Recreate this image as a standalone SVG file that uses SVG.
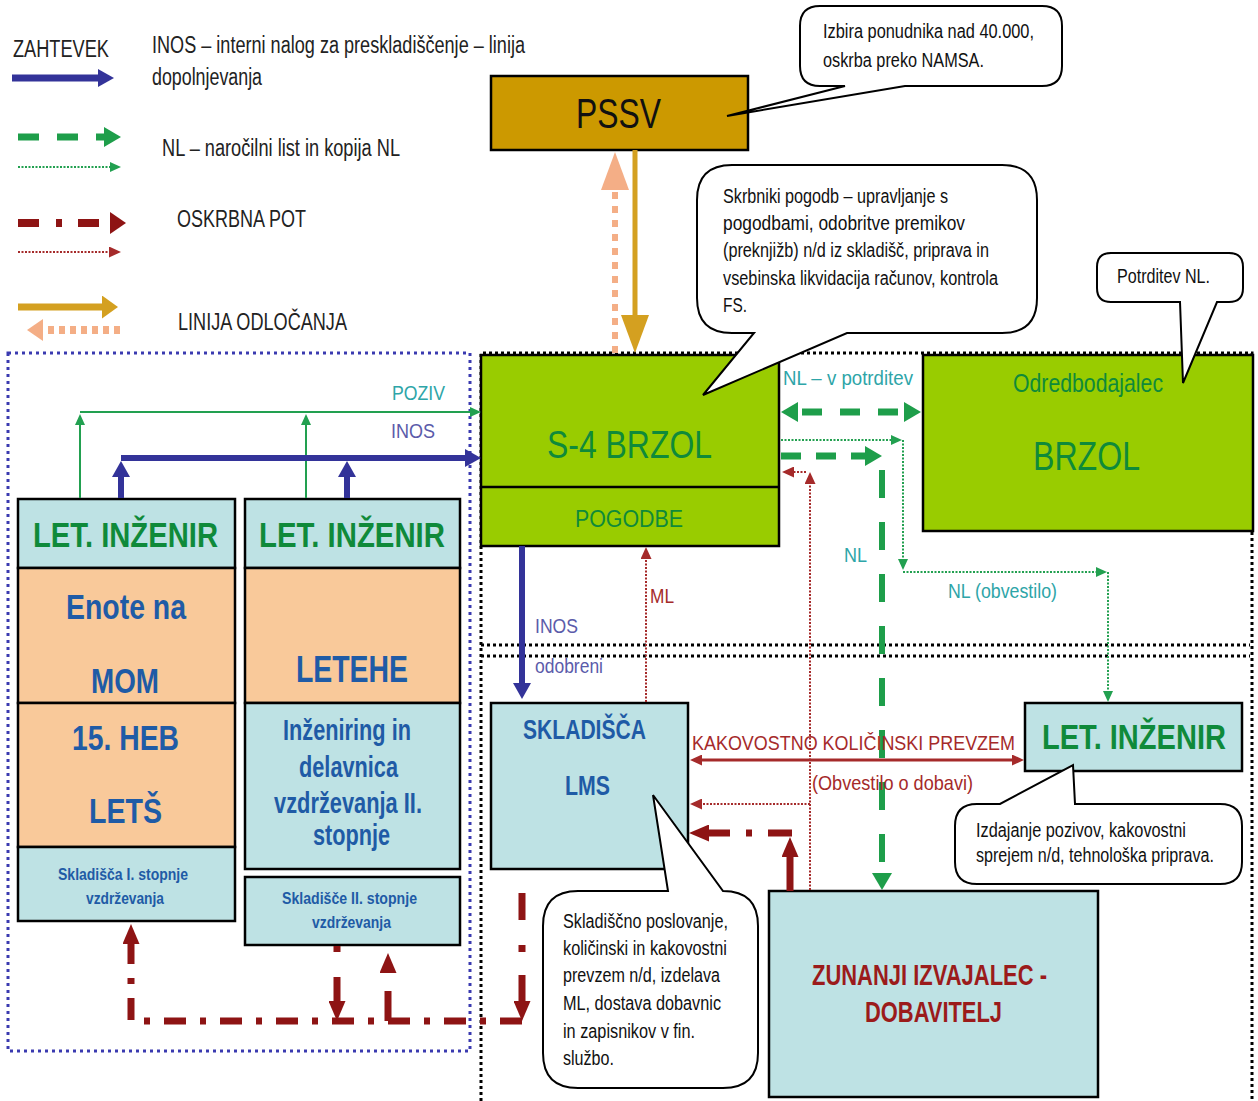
<svg xmlns="http://www.w3.org/2000/svg" width="1258" height="1101" viewBox="0 0 1258 1101">
<defs>
<style>
text { font-family: "Liberation Sans", Arial, sans-serif; }
.box { stroke:#000; stroke-width:2.5; }
.green { fill:#99CC00; }
.cyan { fill:#BEE2E4; }
.peach { fill:#F9C99A; }
.gold { fill:#CC9900; }
.call { fill:#fff; stroke:#000; stroke-width:2; }
.lg { font-size:23px; fill:#222; }
.ct { font-size:20px; fill:#111; }
.gt { fill:#0F8A3A; }
.let { font-size:35px; font-weight:bold; fill:#0F8A3A; text-anchor:middle; }
.bt { font-weight:bold; fill:#1F5BA6; text-anchor:middle; }
.teal { fill:#2EA5A8; font-size:21px; }
.pur { fill:#5B5BAA; font-size:21px; }
.rt { fill:#A52A2A; font-size:21px; }
.mid { text-anchor:middle; }
.cb { stroke:#333399; fill:none; }
.cg { stroke:#1E9E4A; fill:none; }
.cgt { stroke:#22A050; fill:none; stroke-width:2; stroke-dasharray:2 1.5; }
.cgl { stroke:#22A050; fill:none; stroke-width:2; }
.crt { stroke:#A52A2A; fill:none; stroke-width:2; stroke-dasharray:2 1.5; }
.cr { stroke:#8E1414; fill:none; }
</style>
<marker id="mBlue" markerUnits="userSpaceOnUse" viewBox="0 0 16 18" markerWidth="16" markerHeight="18" refX="1" refY="9" orient="auto"><path d="M0,0L16,9L0,18Z" fill="#333399"/></marker>
<marker id="mGreen" markerUnits="userSpaceOnUse" viewBox="0 0 17 20" markerWidth="17" markerHeight="20" refX="1" refY="10" orient="auto-start-reverse"><path d="M0,0L17,10L0,20Z" fill="#1E9E4A"/></marker>
<marker id="mGreenS" markerUnits="userSpaceOnUse" viewBox="0 0 11 10" markerWidth="11" markerHeight="10" refX="1" refY="5" orient="auto"><path d="M0,0L11,5L0,10Z" fill="#22A050"/></marker>
<marker id="mRedS" markerUnits="userSpaceOnUse" viewBox="0 0 12 11" markerWidth="12" markerHeight="11" refX="1" refY="5.5" orient="auto-start-reverse"><path d="M0,0L12,5.5L0,11Z" fill="#A52A2A"/></marker>
<marker id="mRed" markerUnits="userSpaceOnUse" viewBox="0 0 20 17" markerWidth="20" markerHeight="17" refX="1" refY="8.5" orient="auto"><path d="M0,0L20,8.5L0,17Z" fill="#8E1414"/></marker>
<marker id="mRedL" markerUnits="userSpaceOnUse" viewBox="0 0 16 22" markerWidth="16" markerHeight="22" refX="1" refY="11" orient="auto"><path d="M0,0L16,11L0,22Z" fill="#8E1414"/></marker>
<marker id="mGold" markerUnits="userSpaceOnUse" viewBox="0 0 38 28" markerWidth="38" markerHeight="28" refX="1" refY="14" orient="auto"><path d="M0,0L38,14L0,28Z" fill="#D4A020"/></marker>
<marker id="mGoldS" markerUnits="userSpaceOnUse" viewBox="0 0 16 23" markerWidth="16" markerHeight="23" refX="1" refY="11.5" orient="auto"><path d="M0,0L16,11.5L0,23Z" fill="#D4A020"/></marker>
<marker id="mSalmon" markerUnits="userSpaceOnUse" viewBox="0 0 38 28" markerWidth="38" markerHeight="28" refX="1" refY="14" orient="auto"><path d="M0,0L38,14L0,28Z" fill="#F4AE86"/></marker>
<marker id="mSalmonS" markerUnits="userSpaceOnUse" viewBox="0 0 16 22" markerWidth="16" markerHeight="22" refX="1" refY="11" orient="auto"><path d="M0,0L16,11L0,22Z" fill="#F4AE86"/></marker>
</defs>
<rect x="0" y="0" width="1258" height="1101" fill="#fff"/>

<g id="legend">
<text class="lg" x="13" y="57" textLength="96" lengthAdjust="spacingAndGlyphs">ZAHTEVEK</text>
<text class="lg" x="152" y="53" textLength="373" lengthAdjust="spacingAndGlyphs">INOS – interni nalog za preskladiščenje – linija</text>
<text class="lg" x="152" y="85" textLength="110" lengthAdjust="spacingAndGlyphs">dopolnjevanja</text>
<text class="lg" x="162" y="156" textLength="238" lengthAdjust="spacingAndGlyphs">NL – naročilni list in kopija NL</text>
<text class="lg" x="177" y="227" textLength="129" lengthAdjust="spacingAndGlyphs">OSKRBNA POT</text>
<text class="lg" x="178" y="330" textLength="169" lengthAdjust="spacingAndGlyphs">LINIJA ODLOČANJA</text>
<path class="cb" d="M12,78 H99" stroke-width="7" marker-end="url(#mBlue)"/>
<path class="cg" d="M18,137 H105" stroke-width="7" stroke-dasharray="21 18" marker-end="url(#mGreen)"/>
<path class="cgt" d="M18,167 H111" marker-end="url(#mGreenS)"/>
<path class="cr" d="M18,223 H111" stroke-width="8" stroke-dasharray="21 17 6 16" marker-end="url(#mRedL)"/>
<path class="crt" d="M18,252 H110" marker-end="url(#mRedS)"/>
<path d="M18,307 H103" stroke="#D4A020" stroke-width="7" fill="none" marker-end="url(#mGoldS)"/>
<path d="M120,330 H42" stroke="#F4AE86" stroke-width="8" stroke-dasharray="6 5" fill="none" marker-end="url(#mSalmonS)"/>
</g>

<g id="frames">
<rect x="8" y="353" width="462" height="698" fill="none" stroke="#3A3AB0" stroke-width="3" stroke-dasharray="3 4"/>
<path d="M481,1101 V353 H1252 V1101" fill="none" stroke="#000" stroke-width="3" stroke-dasharray="3 3"/>
<path d="M481,645 H1250 M481,656 H1250" fill="none" stroke="#000" stroke-width="3" stroke-dasharray="3 3"/>
</g>

<g id="node-pssv">
<rect class="box gold" x="491" y="76" width="257" height="74"/>
<text x="618.5" y="128" font-size="42" fill="#111" class="mid" textLength="85" lengthAdjust="spacingAndGlyphs">PSSV</text>
</g>
<g id="node-s4brzol">
<rect class="box green" x="481" y="355" width="298" height="191"/>
<line x1="481" y1="487" x2="779" y2="487" stroke="#000" stroke-width="2.5"/>
<text class="gt mid" x="629.5" y="458" font-size="38" textLength="165" lengthAdjust="spacingAndGlyphs">S-4 BRZOL</text>
<text class="gt mid" x="629" y="527" font-size="23" textLength="108" lengthAdjust="spacingAndGlyphs">POGODBE</text>
</g>
<g id="node-odredbodajalec">
<rect class="box green" x="923" y="355" width="330" height="176"/>
<text class="gt mid" x="1088" y="392" font-size="25" textLength="150" lengthAdjust="spacingAndGlyphs">Odredbodajalec</text>
<text class="gt mid" x="1086.5" y="470" font-size="41" textLength="107" lengthAdjust="spacingAndGlyphs">BRZOL</text>
</g>
<g id="node-col1">
<rect class="box cyan" x="18" y="499" width="217" height="69"/>
<rect class="box peach" x="18" y="568" width="217" height="135"/>
<rect class="box peach" x="18" y="703" width="217" height="144"/>
<rect class="box cyan" x="18" y="847" width="217" height="74"/>
<text class="let" x="125.5" y="547" textLength="185" lengthAdjust="spacingAndGlyphs">LET. INŽENIR</text>
<text class="bt" x="126" y="619" font-size="35" textLength="120" lengthAdjust="spacingAndGlyphs">Enote na</text>
<text class="bt" x="125" y="693" font-size="35" textLength="68" lengthAdjust="spacingAndGlyphs">MOM</text>
<text class="bt" x="125.5" y="750" font-size="35" textLength="107" lengthAdjust="spacingAndGlyphs">15. HEB</text>
<text class="bt" x="125.5" y="823" font-size="35" textLength="73" lengthAdjust="spacingAndGlyphs">LETŠ</text>
<text class="bt" x="123" y="880" font-size="17" textLength="130" lengthAdjust="spacingAndGlyphs">Skladišča I. stopnje</text>
<text class="bt" x="125" y="904" font-size="17" textLength="78" lengthAdjust="spacingAndGlyphs">vzdrževanja</text>
</g>
<g id="node-col2">
<rect class="box cyan" x="245" y="499" width="215" height="69"/>
<rect class="box peach" x="245" y="568" width="215" height="135"/>
<rect class="box cyan" x="245" y="703" width="215" height="166"/>
<rect class="box cyan" x="245" y="877" width="215" height="68"/>
<text class="let" x="352" y="547" textLength="186" lengthAdjust="spacingAndGlyphs">LET. INŽENIR</text>
<text class="bt" x="352" y="682" font-size="37" textLength="112" lengthAdjust="spacingAndGlyphs">LETEHE</text>
<text class="bt" x="347" y="740" font-size="29" textLength="128" lengthAdjust="spacingAndGlyphs">Inženiring in</text>
<text class="bt" x="348.5" y="777" font-size="29" textLength="99" lengthAdjust="spacingAndGlyphs">delavnica</text>
<text class="bt" x="348" y="813" font-size="29" textLength="148" lengthAdjust="spacingAndGlyphs">vzdrževanja II.</text>
<text class="bt" x="351.5" y="845" font-size="29" textLength="77" lengthAdjust="spacingAndGlyphs">stopnje</text>
<text class="bt" x="349.5" y="904" font-size="17" textLength="135" lengthAdjust="spacingAndGlyphs">Skladišče II. stopnje</text>
<text class="bt" x="351.5" y="928" font-size="17" textLength="79" lengthAdjust="spacingAndGlyphs">vzdrževanja</text>
</g>
<g id="node-skladisca">
<rect class="box cyan" x="491" y="703" width="197" height="166"/>
<text class="bt" x="584.5" y="739" font-size="28" textLength="123" lengthAdjust="spacingAndGlyphs">SKLADIŠČA</text>
<text class="bt" x="587.5" y="795" font-size="28" textLength="45" lengthAdjust="spacingAndGlyphs">LMS</text>
</g>
<g id="node-let-right">
<rect class="box cyan" x="1025" y="703" width="217" height="68"/>
<text class="let" x="1134" y="749" font-size="31" textLength="184" lengthAdjust="spacingAndGlyphs">LET. INŽENIR</text>
</g>
<g id="node-zunanji">
<rect class="box cyan" x="769" y="891" width="329" height="206"/>
<text x="929.5" y="985" font-size="30" font-weight="bold" fill="#9B1B1B" class="mid" textLength="235" lengthAdjust="spacingAndGlyphs">ZUNANJI IZVAJALEC -</text>
<text x="933.5" y="1022" font-size="30" font-weight="bold" fill="#9B1B1B" class="mid" textLength="137" lengthAdjust="spacingAndGlyphs">DOBAVITELJ</text>
</g>

<g id="connectors">
<path d="M615,353 V189" stroke="#F4AE86" stroke-width="6" stroke-dasharray="7 7" fill="none" marker-end="url(#mSalmon)"/>
<path d="M635,150 V316" stroke="#D4A020" stroke-width="5" fill="none" marker-end="url(#mGold)"/>
<path class="cgl" d="M80,412 H471" marker-end="url(#mGreenS)"/>
<path class="cgl" d="M80,498 V424" marker-end="url(#mGreenS)"/>
<path class="cgl" d="M306,498 V424" marker-end="url(#mGreenS)"/>
<path class="cb" d="M121,458 H466" stroke-width="6" marker-end="url(#mBlue)"/>
<path class="cb" d="M121,498 V476" stroke-width="6" marker-end="url(#mBlue)"/>
<path class="cb" d="M347,498 V476" stroke-width="6" marker-end="url(#mBlue)"/>
<path class="cb" d="M522,546 V684" stroke-width="6" marker-end="url(#mBlue)"/>
<path class="crt" d="M646,702 V558" marker-end="url(#mRedS)"/>
<path class="crt" d="M810,890 V483" marker-end="url(#mRedS)"/>
<path class="crt" d="M806,472 H793" marker-end="url(#mRedS)"/>
<path class="crt" d="M810,804 H701" marker-end="url(#mRedS)"/>
<path d="M701,760 H1013" stroke="#A52A2A" stroke-width="3" fill="none" marker-start="url(#mRedS)" marker-end="url(#mRedS)"/>
<path class="cr" d="M790,891 V856" stroke-width="7" marker-end="url(#mRed)"/>
<path class="cr" d="M792,833 H708" stroke-width="7" stroke-dasharray="24 16 6 16" marker-end="url(#mRed)"/>
<path class="cr" d="M522,893 V1002" stroke-width="7" stroke-dasharray="27 25 7 23 40" marker-end="url(#mRed)"/>
<path class="cr" d="M522,1021 H131 V943" stroke-width="7" stroke-dasharray="22 14 6 14" marker-end="url(#mRed)"/>
<path class="cr" d="M337,946 V1002" stroke-width="7" stroke-dasharray="6 25 40" marker-end="url(#mRed)"/>
<path class="cr" d="M388,1021 V972" stroke-width="7" stroke-dasharray="30 50" marker-end="url(#mRed)"/>
<path class="cg" d="M797,412 H905" stroke-width="7" stroke-dasharray="20 18" stroke-dashoffset="33" marker-start="url(#mGreen)" marker-end="url(#mGreen)"/>
<path class="cg" d="M781,456 H866" stroke-width="7" stroke-dasharray="20 15" marker-end="url(#mGreen)"/>
<path class="cg" d="M882,470 V874" stroke-width="6" stroke-dasharray="28 24" marker-end="url(#mGreen)"/>
<path class="cgt" d="M781,440 H892" marker-end="url(#mGreenS)"/>
<path class="cgt" d="M903,440 V560" marker-end="url(#mGreenS)"/>
<path class="cgt" d="M903,572 H1097" marker-end="url(#mGreenS)"/>
<path class="cgt" d="M1108,572 V692" marker-end="url(#mGreenS)"/>
<text class="teal" x="392" y="400" textLength="53" lengthAdjust="spacingAndGlyphs">POZIV</text>
<text class="pur" x="391" y="438" textLength="44" lengthAdjust="spacingAndGlyphs">INOS</text>
<text class="pur" x="535" y="633" textLength="43" lengthAdjust="spacingAndGlyphs">INOS</text>
<text class="pur" x="535" y="673" font-size="20" textLength="68" lengthAdjust="spacingAndGlyphs">odobreni</text>
<text class="rt" x="650" y="603" textLength="24" lengthAdjust="spacingAndGlyphs">ML</text>
<text class="teal" x="783" y="385" textLength="130" lengthAdjust="spacingAndGlyphs">NL – v potrditev</text>
<text class="teal" x="844" y="562" textLength="23" lengthAdjust="spacingAndGlyphs">NL</text>
<text class="teal" x="948" y="598" textLength="109" lengthAdjust="spacingAndGlyphs">NL (obvestilo)</text>
<text class="rt" x="692" y="750" textLength="323" lengthAdjust="spacingAndGlyphs">KAKOVOSTNO KOLIČINSKI PREVZEM</text>
<text class="rt" x="812" y="790" font-size="20" textLength="161" lengthAdjust="spacingAndGlyphs">(Obvestilo o dobavi)</text>
</g>

<g id="callout-pssv">
<path class="call" d="M820,6 H1042 Q1062,6 1062,26 V66 Q1062,86 1042,86 H905 L727,116 L845,86 H820 Q800,86 800,66 V26 Q800,6 820,6 Z"/>
<text class="ct" x="823" y="38" textLength="211" lengthAdjust="spacingAndGlyphs">Izbira ponudnika nad 40.000,</text>
<text class="ct" x="823" y="67" textLength="161" lengthAdjust="spacingAndGlyphs">oskrba preko NAMSA.</text>
</g>
<g id="callout-s4">
<path class="call" d="M732,165 H1002 Q1037,165 1037,200 V298 Q1037,333 1002,333 H847 L703,395 L754,333 H732 Q697,333 697,298 V200 Q697,165 732,165 Z"/>
<text class="ct" x="723" y="203" textLength="225" lengthAdjust="spacingAndGlyphs">Skrbniki pogodb – upravljanje s</text>
<text class="ct" x="723" y="230" textLength="242" lengthAdjust="spacingAndGlyphs">pogodbami, odobritve premikov</text>
<text class="ct" x="723" y="257" textLength="266" lengthAdjust="spacingAndGlyphs">(preknjižb) n/d iz skladišč, priprava in</text>
<text class="ct" x="723" y="285" textLength="275" lengthAdjust="spacingAndGlyphs">vsebinska likvidacija računov, kontrola</text>
<text class="ct" x="723" y="312" textLength="24" lengthAdjust="spacingAndGlyphs">FS.</text>
</g>
<g id="callout-odred">
<path class="call" d="M1111,253 H1229 Q1243,253 1243,267 V288 Q1243,302 1229,302 H1217 L1183,383 L1180,302 H1111 Q1097,302 1097,288 V267 Q1097,253 1111,253 Z"/>
<text class="ct" x="1117" y="283" textLength="93" lengthAdjust="spacingAndGlyphs">Potrditev NL.</text>
</g>
<g id="callout-let">
<path class="call" d="M977,804 H1000 L1073,765 L1075,804 H1220 Q1242,804 1242,826 V862 Q1242,884 1220,884 H977 Q955,884 955,862 V826 Q955,804 977,804 Z"/>
<text class="ct" x="976" y="837" font-size="18" textLength="210" lengthAdjust="spacingAndGlyphs">Izdajanje pozivov, kakovostni</text>
<text class="ct" x="976" y="862" font-size="17" textLength="238" lengthAdjust="spacingAndGlyphs">sprejem n/d, tehnološka priprava.</text>
</g>
<g id="callout-skladisca">
<path class="call" d="M578,891 H668 L653,795 L723,891 Q758,891 758,926 V1053 Q758,1088 723,1088 H578 Q543,1088 543,1053 V926 Q543,891 578,891 Z"/>
<text class="ct" x="563" y="928" textLength="165" lengthAdjust="spacingAndGlyphs">Skladiščno poslovanje,</text>
<text class="ct" x="563" y="955" textLength="164" lengthAdjust="spacingAndGlyphs">količinski in kakovostni</text>
<text class="ct" x="563" y="982" textLength="157" lengthAdjust="spacingAndGlyphs">prevzem n/d, izdelava</text>
<text class="ct" x="563" y="1010" textLength="158" lengthAdjust="spacingAndGlyphs">ML, dostava dobavnic</text>
<text class="ct" x="563" y="1038" textLength="132" lengthAdjust="spacingAndGlyphs">in zapisnikov v fin.</text>
<text class="ct" x="563" y="1065" textLength="51" lengthAdjust="spacingAndGlyphs">službo.</text>
</g>
</svg>
